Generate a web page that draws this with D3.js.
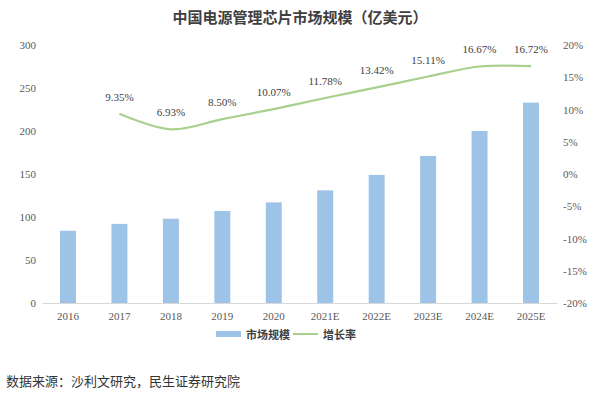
<!DOCTYPE html>
<html>
<head>
<meta charset="utf-8">
<script src="https://cdn.jsdelivr.net/npm/d3@7"></script>
<style>
  body { margin: 0; background: #fff; }
  svg { display: block; }
</style>
</head>
<body>
<div id="chart"></div>
<script>
const years = ['2016', '2017', '2018', '2019', '2020', '2021E', '2022E', '2023E', '2024E', '2025E'];
const marketSize = [84, 92, 98, 107, 117, 131, 149, 171, 200, 233];
const growthYears = ['2017', '2018', '2019', '2020', '2021E', '2022E', '2023E', '2024E', '2025E'];
const growthRate = [9.35, 6.93, 8.50, 10.07, 11.78, 13.42, 15.11, 16.67, 16.72];
const leftTicks = [0, 50, 100, 150, 200, 250, 300];
const rightTicks = [-20, -15, -10, -5, 0, 5, 10, 15, 20];

const w = 600, h = 396;
const margin = { top: 45, right: 43, bottom: 93, left: 42 };

const svg = d3.select('#chart').append('svg')
  .attr('width', w)
  .attr('height', h);

const x = d3.scaleBand()
  .domain(years)
  .range([margin.left, w - margin.right])
  .paddingInner(0.69)
  .paddingOuter(0.35);

const yL = d3.scaleLinear().domain([0, 300]).range([h - margin.bottom, margin.top]);
const yR = d3.scaleLinear().domain([-20, 20]).range([h - margin.bottom, margin.top]);

const serif = '"Liberation Serif", "Times New Roman", serif';
const labelColor = '#595959';

// title
svg.append('text')
  .attr('x', 300).attr('y', 23)
  .attr('text-anchor', 'middle')
  .style('font-family', '"Noto Sans CJK SC", sans-serif')
  .style('font-weight', 'bold')
  .style('font-size', '15px')
  .style('fill', '#404040')
  .text('中国电源管理芯片市场规模（亿美元）');

// left axis
const leftAxis = svg.append('g')
  .attr('transform', `translate(${margin.left - 6},0)`)
  .call(d3.axisLeft(yL).tickValues(leftTicks).tickSize(0).tickPadding(0));
leftAxis.select('.domain').remove();
leftAxis.selectAll('text')
  .style('font-family', serif).style('font-size', '11px').style('fill', labelColor);

// right axis
const rightAxis = svg.append('g')
  .attr('transform', `translate(${w - margin.right + 6},0)`)
  .call(d3.axisRight(yR).tickValues(rightTicks).tickSize(0).tickPadding(0).tickFormat(d => d + '%'));
rightAxis.select('.domain').remove();
rightAxis.selectAll('text')
  .style('font-family', serif).style('font-size', '11px').style('fill', labelColor);

// bottom axis
const bottomAxis = svg.append('g')
  .attr('transform', `translate(0,${h - margin.bottom})`)
  .call(d3.axisBottom(x).tickSize(0).tickPadding(9));
bottomAxis.select('.domain').attr('stroke', '#d9d9d9');
bottomAxis.selectAll('text')
  .style('font-family', serif).style('font-size', '11px').style('fill', labelColor);

// bars
svg.append('g').selectAll('rect')
  .data(marketSize)
  .enter()
  .append('rect')
  .attr('x', (d, i) => x(years[i]))
  .attr('y', d => yL(d))
  .attr('width', x.bandwidth())
  .attr('height', d => yL(0) - yL(d))
  .attr('fill', '#9dc3e6');

// growth line
const line = d3.line()
  .x((d, i) => x(growthYears[i]) + x.bandwidth() / 2)
  .y(d => yR(d))
  .curve(d3.curveCatmullRom.alpha(0.5));

svg.append('path')
  .datum(growthRate)
  .attr('d', line)
  .attr('fill', 'none')
  .attr('stroke', '#a9d18e')
  .attr('stroke-width', 2.2);

svg.append('g').selectAll('text')
  .data(growthRate)
  .enter()
  .append('text')
  .attr('x', (d, i) => x(growthYears[i]) + x.bandwidth() / 2)
  .attr('y', d => yR(d) - 13)
  .attr('text-anchor', 'middle')
  .style('font-family', serif)
  .style('font-size', '11px')
  .style('fill', '#404040')
  .text(d => d.toFixed(2) + '%');

// legend
const legend = svg.append('g').attr('transform', 'translate(216,334)');
legend.append('rect')
  .attr('x', 0).attr('y', -3).attr('width', 25).attr('height', 6)
  .attr('fill', '#9dc3e6');
legend.append('text')
  .attr('x', 30).attr('y', 4.5)
  .style('font-family', '"Noto Sans CJK SC", sans-serif')
  .style('font-weight', 'bold').style('font-size', '11px').style('fill', '#404040')
  .text('市场规模');
legend.append('line')
  .attr('x1', 77).attr('x2', 102).attr('y1', 0).attr('y2', 0)
  .attr('stroke', '#a9d18e').attr('stroke-width', 2);
legend.append('text')
  .attr('x', 107).attr('y', 4.5)
  .style('font-family', '"Noto Sans CJK SC", sans-serif')
  .style('font-weight', 'bold').style('font-size', '11px').style('fill', '#404040')
  .text('增长率');

// source
svg.append('text')
  .attr('x', 6).attr('y', 386)
  .style('font-family', '"Noto Sans CJK SC", sans-serif')
  .style('font-size', '13px')
  .style('fill', '#333')
  .text('数据来源：沙利文研究，民生证券研究院');
</script>
</body>
</html>
